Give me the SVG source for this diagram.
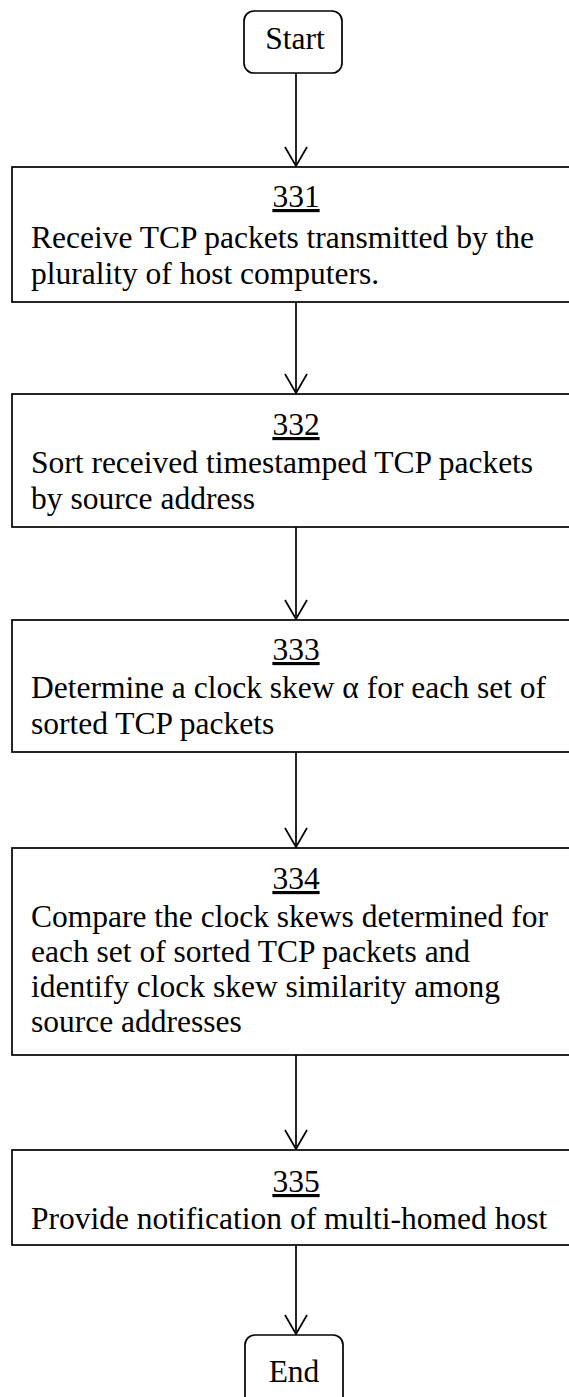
<svg xmlns="http://www.w3.org/2000/svg" width="569" height="1397" viewBox="0 0 569 1397" font-family="Liberation Serif">
<style>
.box{fill:#fff;stroke:#000;stroke-width:1.7}
.t{font-family:'Liberation Serif';font-size:31.5px;fill:#000}
.c{text-anchor:middle}
.n{text-decoration:underline}
.ln{stroke:#000;stroke-width:1.7;fill:none}
</style>
<defs>
<marker id="ah" markerUnits="userSpaceOnUse" markerWidth="30" markerHeight="30" refX="0" refY="0" orient="auto" overflow="visible">
<path d="M-19,-11 L0,0 L-19,11" fill="none" stroke="#000" stroke-width="1.7"/>
</marker>
</defs>
<rect width="569" height="1397" fill="#fff"/>
<g id="connectors">
<line class="ln" x1="296" y1="73" x2="296" y2="166" marker-end="url(#ah)"/>
<line class="ln" x1="296" y1="302" x2="296" y2="393" marker-end="url(#ah)"/>
<line class="ln" x1="296" y1="527" x2="296" y2="619" marker-end="url(#ah)"/>
<line class="ln" x1="296" y1="752" x2="296" y2="847" marker-end="url(#ah)"/>
<line class="ln" x1="296" y1="1055" x2="296" y2="1149" marker-end="url(#ah)"/>
<line class="ln" x1="296" y1="1245" x2="296" y2="1334" marker-end="url(#ah)"/>
</g>
<g id="start">
<rect class="box" x="244" y="11" width="98" height="62" rx="10"/>
<text class="t c" x="295" y="49">Start</text>
</g>
<g id="n331">
<rect class="box" x="12" y="167" width="572" height="135"/>
<text class="t c n" x="296" y="207">331</text>
<text class="t" x="31" y="248">Receive TCP packets transmitted by the</text>
<text class="t" x="31" y="284">plurality of host computers.</text>
</g>
<g id="n332">
<rect class="box" x="12" y="394" width="572" height="133"/>
<text class="t c n" x="296" y="435">332</text>
<text class="t" x="31" y="473">Sort received timestamped TCP packets</text>
<text class="t" x="31" y="509">by source address</text>
</g>
<g id="n333">
<rect class="box" x="12" y="620" width="572" height="132"/>
<text class="t c n" x="296" y="660">333</text>
<text class="t" x="31" y="698">Determine a clock skew α for each set of</text>
<text class="t" x="31" y="734">sorted TCP packets</text>
</g>
<g id="n334">
<rect class="box" x="12" y="848" width="572" height="207"/>
<text class="t c n" x="296" y="889">334</text>
<text class="t" x="31" y="927">Compare the clock skews determined for</text>
<text class="t" x="31" y="962">each set of sorted TCP packets and</text>
<text class="t" x="31" y="997">identify clock skew similarity among</text>
<text class="t" x="31" y="1032">source addresses</text>
</g>
<g id="n335">
<rect class="box" x="12" y="1150" width="572" height="95"/>
<text class="t c n" x="296" y="1192">335</text>
<text class="t" x="31" y="1229">Provide notification of multi-homed host</text>
</g>
<g id="end">
<rect class="box" x="245" y="1335" width="98" height="75" rx="10"/>
<text class="t c" x="294" y="1382">End</text>
</g>
</svg>
